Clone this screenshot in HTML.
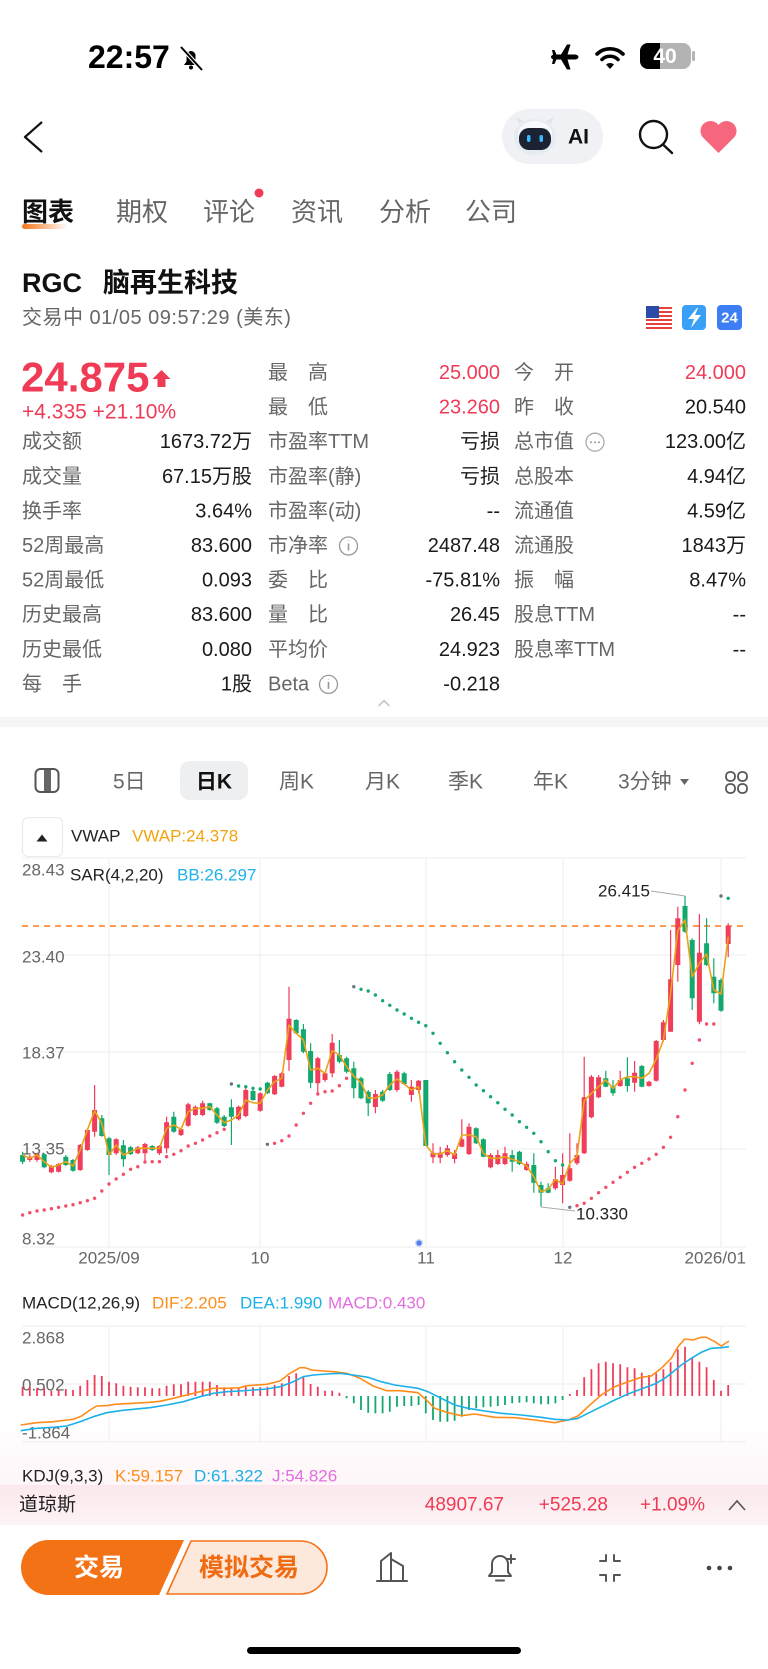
<!DOCTYPE html>
<html><head><meta charset="utf-8">
<style>
html,body{margin:0;padding:0;background:#fff;width:768px;height:1669px;overflow:hidden}
svg{display:block}
text{dominant-baseline:central;font-family:"Liberation Sans","Noto Sans CJK SC",sans-serif}
.lb{fill:#666;font-size:20px}
.vl{fill:#1a1a1a;font-size:20px;text-anchor:end}
.rd{fill:#ef3b55}
.tf{fill:#666;font-size:21px}
.ax{fill:#666;font-size:17px}
</style></head>
<body>
<svg width="768" height="1669" viewBox="0 0 768 1669" xmlns="http://www.w3.org/2000/svg">
<rect width="768" height="1669" fill="#fff"/>

<!-- status bar -->
<text x="88" y="57" style="font-size:32px;font-weight:bold" fill="#000">22:57</text>
<g>
<path d="M184 65h14l-2.5-3.5v-6a4.5 4.5 0 0 0-9 0v6z" fill="#000"/>
<circle cx="191" cy="67.5" r="2" fill="#000"/>
<line x1="181" y1="47" x2="202" y2="70" stroke="#fff" stroke-width="4"/>
<line x1="181" y1="47" x2="202" y2="70" stroke="#000" stroke-width="2"/>
</g>
<path d="M551 57c0-1.5 2-2.5 4-2.5h6l6-10h3.5l-3 10h7c2 0 4 1 4 2.5s-2 2.5-4 2.5h-7l3 10h-3.5l-6-10h-6c-2 0-4-1-4-2.5zM552 50h2.5l3 7-3 7H552l1.5-7z" fill="#000"/>
<path d="M597 54a19 19 0 0 1 26 0" stroke="#000" stroke-width="3.6" fill="none" stroke-linecap="round"/>
<path d="M602 59.5a11.5 11.5 0 0 1 16 0" stroke="#000" stroke-width="3.6" fill="none" stroke-linecap="round"/>
<path d="M606 64.5l4 4.5 4-4.5a6 6 0 0 0-8 0z" fill="#000"/>
<rect x="640" y="43" width="51" height="26" rx="8" fill="#b3b3b3"/>
<path d="M648 43h12v26h-12a8 8 0 0 1-8-8v-10a8 8 0 0 1 8-8z" fill="#000"/>
<rect x="692" y="51" width="3" height="10" rx="1.5" fill="#b3b3b3"/>
<text x="665" y="56.5" text-anchor="middle" style="font-size:21px;font-weight:bold" fill="#fff">40</text>

<!-- nav bar -->
<polyline points="42,122 25,137 42,152" fill="none" stroke="#111" stroke-width="2.2" stroke-linejoin="round"/>
<rect x="502" y="109" width="101" height="55" rx="27.5" fill="#eff1f4"/>
<path d="M519 124l-3-7 8 4zM551 124l3-7-8 4z" fill="#dfe5ee"/>
<ellipse cx="535" cy="137" rx="21" ry="18" fill="#e6ebf2"/>
<ellipse cx="535" cy="134" rx="17" ry="13" fill="#f7f9fc"/>
<rect x="519" y="128" width="32" height="22" rx="10" fill="#1b2232"/>
<rect x="527" y="135" width="3.5" height="7" rx="1.7" fill="#3ab8ff"/>
<rect x="539.5" y="135" width="3.5" height="7" rx="1.7" fill="#3ab8ff"/>
<text x="568" y="137" style="font-size:21px;font-weight:bold" fill="#111">AI</text>
<circle cx="653.5" cy="134.5" r="13.5" fill="none" stroke="#111" stroke-width="2.4"/>
<line x1="663" y1="144.5" x2="672" y2="153" stroke="#111" stroke-width="2.4" stroke-linecap="round"/>
<path d="M718.5 153l-16-16a10 10 0 0 1 16-12a10 10 0 0 1 16 12z" fill="#f6677e"/>

<!-- tabs -->
<text x="22" y="212" style="font-size:26px;font-weight:bold" fill="#111">图表</text>
<text x="116" y="212" style="font-size:26px" fill="#666">期权</text>
<text x="203" y="212" style="font-size:26px" fill="#666">评论</text>
<text x="291" y="212" style="font-size:26px" fill="#666">资讯</text>
<text x="379" y="212" style="font-size:26px" fill="#666">分析</text>
<text x="465" y="212" style="font-size:26px" fill="#666">公司</text>
<circle cx="259" cy="193" r="4.5" fill="#ef3b55"/>
<defs>
<linearGradient id="ul" x1="0" x2="1" y1="0" y2="0"><stop offset="0" stop-color="#f57416"/><stop offset="1" stop-color="#f57416" stop-opacity="0"/></linearGradient>
<linearGradient id="pk" x1="0" x2="0" y1="0" y2="1"><stop offset="0" stop-color="#fdeef1" stop-opacity="0"/><stop offset="1" stop-color="#fdeef1" stop-opacity="0.55"/></linearGradient>
<linearGradient id="pk2" x1="0" x2="0" y1="0" y2="1"><stop offset="0" stop-color="#fce8ec"/><stop offset="1" stop-color="#fdf3f5"/></linearGradient>
</defs>
<rect x="22" y="224" width="46" height="5" rx="2.5" fill="url(#ul)"/>

<!-- stock header -->
<text x="22" y="283" style="font-size:27px;font-weight:bold" fill="#111">RGC</text>
<text x="103" y="283" style="font-size:27px;font-weight:bold" fill="#111">脑再生科技</text>
<text x="22" y="318" style="font-size:20px;letter-spacing:0.5px" fill="#666">交易中 01/05 09:57:29 (美东)</text>
<g>
<rect x="646" y="306" width="26" height="24" rx="3" fill="#fff"/>
<path d="M646 307h26v2h-26zM646 311h26v2h-26zM646 315h26v2h-26zM646 319h26v2h-26zM646 323h26v2h-26zM646 327h26v2h-26z" fill="#e8403a"/>
<rect x="646" y="306" width="13" height="12" fill="#2c4aa8"/>
<rect x="682" y="305" width="24" height="25" rx="4" fill="#3aa0f7"/>
<path d="M697 308l-9 11h6l-3 9 10-13h-6l3-7z" fill="#fff"/>
<rect x="717" y="305" width="25" height="25" rx="4" fill="#3d7ef5"/>
<text x="729.5" y="318" text-anchor="middle" style="font-size:15px;font-weight:bold" fill="#fff">24</text>
</g>

<!-- price block -->
<text x="21" y="377" class="rd" style="font-size:42px;font-weight:bold">24.875</text>
<path d="M161.5 370L170.5 379H165.5V387H157.5V379H152.5Z" fill="#ef3b55"/>
<text x="22" y="412" class="rd" style="font-size:21px">+4.335 +21.10%</text>

<!-- table -->
<text x="268" y="373" class="lb">最　高</text><text x="500" y="373" class="vl rd">25.000</text>
<text x="514" y="373" class="lb">今　开</text><text x="746" y="373" class="vl rd">24.000</text>
<text x="268" y="407.6" class="lb">最　低</text><text x="500" y="407.6" class="vl rd">23.260</text>
<text x="514" y="407.6" class="lb">昨　收</text><text x="746" y="407.6" class="vl">20.540</text>

<text x="22" y="442.2" class="lb">成交额</text><text x="252" y="442.2" class="vl">1673.72万</text>
<text x="268" y="442.2" class="lb">市盈率TTM</text><text x="500" y="442.2" class="vl">亏损</text>
<text x="514" y="442.2" class="lb">总市值</text><text x="746" y="442.2" class="vl">123.00亿</text>
<circle cx="595" cy="442.2" r="9" fill="none" stroke="#aaa" stroke-width="1.3"/>
<path d="M591 442.2h0M595 442.2h0M599 442.2h0" stroke="#999" stroke-width="2" stroke-linecap="round"/>

<text x="22" y="476.8" class="lb">成交量</text><text x="252" y="476.8" class="vl">67.15万股</text>
<text x="268" y="476.8" class="lb">市盈率(静)</text><text x="500" y="476.8" class="vl">亏损</text>
<text x="514" y="476.8" class="lb">总股本</text><text x="746" y="476.8" class="vl">4.94亿</text>

<text x="22" y="511.4" class="lb">换手率</text><text x="252" y="511.4" class="vl">3.64%</text>
<text x="268" y="511.4" class="lb">市盈率(动)</text><text x="500" y="511.4" class="vl">--</text>
<text x="514" y="511.4" class="lb">流通值</text><text x="746" y="511.4" class="vl">4.59亿</text>

<text x="22" y="546" class="lb">52周最高</text><text x="252" y="546" class="vl">83.600</text>
<text x="268" y="546" class="lb">市净率</text><text x="500" y="546" class="vl">2487.48</text>
<circle cx="348.5" cy="546" r="9" fill="none" stroke="#999" stroke-width="1.3"/>
<path d="M348.5 543.5v7M348.5 540.5v0.5" stroke="#999" stroke-width="1.6"/>
<text x="514" y="546" class="lb">流通股</text><text x="746" y="546" class="vl">1843万</text>

<text x="22" y="580.6" class="lb">52周最低</text><text x="252" y="580.6" class="vl">0.093</text>
<text x="268" y="580.6" class="lb">委　比</text><text x="500" y="580.6" class="vl">-75.81%</text>
<text x="514" y="580.6" class="lb">振　幅</text><text x="746" y="580.6" class="vl">8.47%</text>

<text x="22" y="615.2" class="lb">历史最高</text><text x="252" y="615.2" class="vl">83.600</text>
<text x="268" y="615.2" class="lb">量　比</text><text x="500" y="615.2" class="vl">26.45</text>
<text x="514" y="615.2" class="lb">股息TTM</text><text x="746" y="615.2" class="vl">--</text>

<text x="22" y="649.8" class="lb">历史最低</text><text x="252" y="649.8" class="vl">0.080</text>
<text x="268" y="649.8" class="lb">平均价</text><text x="500" y="649.8" class="vl">24.923</text>
<text x="514" y="649.8" class="lb">股息率TTM</text><text x="746" y="649.8" class="vl">--</text>

<text x="22" y="684.4" class="lb">每　手</text><text x="252" y="684.4" class="vl">1股</text>
<text x="268" y="684.4" class="lb">Beta</text><text x="500" y="684.4" class="vl">-0.218</text>
<circle cx="328.5" cy="684.4" r="9" fill="none" stroke="#999" stroke-width="1.3"/>
<path d="M328.5 681.9v7M328.5 678.9v0.5" stroke="#999" stroke-width="1.6"/>

<path d="M378.5 706L384 700.5L389.5 706" fill="none" stroke="#bbb" stroke-width="1.3"/>
<rect x="0" y="717" width="768" height="10" fill="#f5f5f5"/>

<!-- timeframe row -->
<rect x="35.5" y="769" width="23" height="23" rx="5" fill="none" stroke="#555" stroke-width="2"/>
<rect x="44" y="770" width="7" height="21" fill="#666"/>
<text x="113" y="782" class="tf">5日</text>
<rect x="180" y="761" width="68" height="39" rx="10" fill="#eeeff1"/>
<text x="214" y="782" text-anchor="middle" style="font-size:21px;font-weight:bold" fill="#111">日K</text>
<text x="279" y="782" class="tf">周K</text>
<text x="365" y="782" class="tf">月K</text>
<text x="448" y="782" class="tf">季K</text>
<text x="533" y="782" class="tf">年K</text>
<text x="618" y="782" class="tf">3分钟</text>
<path d="M680 779h9l-4.5 6z" fill="#666"/>
<g fill="none" stroke="#555" stroke-width="1.8">
<rect x="726" y="772" width="9" height="9" rx="4"/><rect x="738" y="772" width="9" height="9" rx="4"/>
<rect x="726" y="784" width="9" height="9" rx="4"/><rect x="738" y="784" width="9" height="9" rx="4"/>
</g>

<!-- VWAP legend -->
<rect x="22.5" y="817.5" width="40" height="39" rx="6" fill="#fff" stroke="#e8e8e8"/>
<path d="M36.5 841.5h11l-5.5-7z" fill="#222"/>
<text x="71" y="836" style="font-size:17px" fill="#222">VWAP</text>
<text x="132" y="836" style="font-size:17px" fill="#f2a40f">VWAP:24.378</text>

<!-- main chart grid -->
<g stroke="#eeeeee" stroke-width="1">
<path d="M22 858H746M22 955H746M22 1052H746M22 1149H746M22 1247H746"/>
<path d="M109 858V1247M260 858V1247M426 858V1247M563 858V1247M721 858V1247"/>
</g>
<text x="22" y="870" class="ax">28.43</text>
<text x="22" y="957" class="ax">23.40</text>
<text x="22" y="1053" class="ax">18.37</text>
<text x="22" y="1149" class="ax">13.35</text>
<text x="22" y="1239" class="ax">8.32</text>
<text x="70" y="875" style="font-size:17px" fill="#222">SAR(4,2,20)</text>
<text x="177" y="875" style="font-size:17px" fill="#1fb1ea">BB:26.297</text>

<line x1="22" y1="926" x2="746" y2="926" stroke="#ff7a1a" stroke-width="1.5" stroke-dasharray="6 5"/>

<!-- candles -->
<path fill="none" stroke="#ef3d5a" stroke-width="1.2" d="M29.8 1155V1161.7M37 1152.7V1161.7M51.4 1165V1173.3M58.6 1163V1172.5M80.2 1144V1171M87.4 1128.3V1150.7M94.6 1085V1136.7M116.2 1138.3V1155M137.8 1146V1154M145 1142.7V1161.7M159.4 1145V1155M166.6 1116.7V1153.3M181 1128V1136M188.2 1102.7V1126.7M195.4 1105.5V1116M202.6 1100.7V1116M238.6 1105.5V1120.5M245.8 1088.3V1117.3M260.2 1092.3V1111.7M274.6 1075V1095M281.8 1071.7V1087.3M289 986.7V1070.7M317.8 1056.7V1093.3M325 1071.7V1081.7M332.2 1034V1077.3M375.4 1090V1113.3M397 1070V1091.7M411.4 1080V1101.7M418.6 1080V1093.3M433 1143.3V1163.3M440.2 1146.7V1163.3M447.4 1145V1156.7M454.6 1150V1163.3M461.8 1119.3V1147.3M469 1123.3V1155M490.6 1153.3V1168.3M497.8 1150V1165M505 1146.7V1165M526.6 1161.7V1170.7M555.4 1166.7V1190M562.6 1153.3V1203.3M569.8 1133.3V1181.7M577 1143.3V1165M584.2 1056.7V1154M591.4 1075V1118.3M598.6 1075V1098.3M620.2 1070.7V1086.7M634.6 1061V1091.7M649 1080.7V1086.7M656.2 1040V1081.7M663.4 1020V1041.7M670.6 930V1031.7M677.8 906.7V981.7M699.4 914V1024.3M728.2 923.3V957.3"/>
<path fill="#ef3d5a" d="M27.3 1156.7h5V1160h-5zM34.5 1154h5V1160h-5zM48.9 1166h5V1172.3h-5zM56.1 1164h5V1171.7h-5zM77.7 1145h5V1170h-5zM84.9 1130h5V1150h-5zM92.1 1110h5V1131.7h-5zM113.7 1139.3h5V1153.3h-5zM135.3 1147.3h5V1153.3h-5zM142.5 1144h5V1153.3h-5zM156.9 1146h5V1153.3h-5zM164.1 1122.3h5V1148.3h-5zM178.5 1129.3h5V1135h-5zM185.7 1104.3h5V1125.7h-5zM192.9 1106.7h5V1115h-5zM200.1 1103.3h5V1115h-5zM236.1 1106.7h5V1119.3h-5zM243.3 1090h5V1116h-5zM257.7 1093.3h5V1110.7h-5zM272.1 1076h5V1094.3h-5zM279.3 1073.3h5V1086.7h-5zM286.5 1018.7h5V1060h-5zM315.3 1058.3h5V1083.3h-5zM322.5 1073.3h5V1080h-5zM329.7 1042.7h5V1073.3h-5zM372.9 1094h5V1107h-5zM394.5 1071.7h5V1090h-5zM408.9 1086.7h5V1095h-5zM416.1 1080.7h5V1090h-5zM430.5 1152.7h5V1157.3h-5zM437.7 1152.7h5V1157.7h-5zM444.9 1148.3h5V1155h-5zM452.1 1153.3h5V1159h-5zM459.3 1139.3h5V1146.7h-5zM466.5 1126.7h5V1154h-5zM488.1 1155h5V1167.3h-5zM495.3 1155h5V1164h-5zM502.5 1153.3h5V1164h-5zM524.1 1164h5V1170h-5zM552.9 1179.3h5V1188.3h-5zM560.1 1175h5V1185h-5zM567.3 1168.3h5V1180.7h-5zM574.5 1155h5V1163.3h-5zM581.7 1097.3h5V1153.3h-5zM588.9 1076.7h5V1117.3h-5zM596.1 1077.3h5V1097.3h-5zM617.7 1080h5V1086h-5zM632.1 1072.7h5V1082.7h-5zM646.5 1081.7h5V1086h-5zM653.7 1041h5V1080.7h-5zM660.9 1022.3h5V1040h-5zM668.1 979.3h5V1031.7h-5zM675.3 918.3h5V965h-5zM696.9 952.7h5V1021.7h-5zM725.7 925.7h5V944h-5z"/>
<path fill="none" stroke="#13a86d" stroke-width="1.2" d="M22.6 1151.7V1164M44.2 1153.3V1168.3M65.8 1155V1166M73 1159V1171.7M101.8 1115V1136.7M109 1136.7V1175M123.4 1140V1166.7M130.6 1146V1155M152.2 1145V1151M173.8 1111.7V1132.7M209.8 1102.7V1110.7M217 1107V1124M224.2 1115V1127M231.4 1099.3V1145M253 1090V1100.7M267.4 1081.7V1094M296.2 1019.3V1034M303.4 1024V1053.3M310.6 1043.3V1088.3M339.4 1040V1063.3M346.6 1056.7V1073.3M353.8 1061.7V1098.3M361 1076.7V1099.3M368.2 1090V1116M382.6 1090V1102M389.8 1072V1091M404.2 1071.7V1085M425.8 1080V1146M476.2 1127.3V1144M483.4 1138.3V1157.3M512.2 1150V1171.7M519.4 1150.7V1165M533.8 1153.3V1192.7M541 1181.7V1206.7M548.2 1183.3V1193.3M605.8 1070.7V1087.3M613 1080V1095.7M627.4 1057.3V1091.7M641.8 1065V1087.3M685 896V932.7M692.2 938.3V1010M706.6 918.3V966M713.8 958.3V1003.3M721 978.3V1011.7"/>
<path fill="#13a86d" d="M20.1 1155h5V1161.7h-5zM41.7 1154.3h5V1167.3h-5zM63.3 1156.7h5V1165h-5zM70.5 1160h5V1170.7h-5zM99.3 1118.3h5V1136h-5zM106.5 1138.3h5V1155h-5zM120.9 1145.3h5V1159.3h-5zM128.1 1147.3h5V1154h-5zM149.7 1146h5V1150h-5zM171.3 1116.7h5V1131.7h-5zM207.3 1103.3h5V1110h-5zM214.5 1108.3h5V1122.7h-5zM221.7 1116.7h5V1126h-5zM228.9 1107.3h5V1116.7h-5zM250.5 1091h5V1100h-5zM264.9 1082.7h5V1093.3h-5zM293.7 1020h5V1033.3h-5zM300.9 1029.3h5V1051.7h-5zM308.1 1051h5V1082.7h-5zM336.9 1055h5V1061.7h-5zM344.1 1058.3h5V1071.7h-5zM351.3 1068.3h5V1088.3h-5zM358.5 1078.3h5V1098.3h-5zM365.7 1091.7h5V1103.3h-5zM380.1 1091.7h5V1100.7h-5zM387.3 1074h5V1090h-5zM401.7 1073.3h5V1084h-5zM423.3 1080h5V1146h-5zM473.7 1128.3h5V1143.3h-5zM480.9 1139.3h5V1156.7h-5zM509.7 1155h5V1161.7h-5zM516.9 1151.7h5V1164h-5zM531.3 1165h5V1182.7h-5zM538.5 1185h5V1192.7h-5zM545.7 1188.3h5V1192.7h-5zM603.3 1078.3h5V1086.7h-5zM610.5 1086.7h5V1093.3h-5zM624.9 1078.3h5V1086h-5zM639.3 1066h5V1086.7h-5zM682.5 906h5V931.7h-5zM689.7 940h5V998.3h-5zM704.1 943.3h5V965h-5zM711.3 976.7h5V993.3h-5zM718.5 980h5V1010.7h-5z"/>

<!-- VWAP line -->
<polyline fill="none" stroke="#eaa319" stroke-width="1.6" stroke-linejoin="round" points="22.6,1155 29.8,1158.3 37,1155 44.2,1161.7 51.4,1167.3 58.6,1165 65.8,1161.7 73,1166 80.2,1150 87.4,1130 94.6,1110.7 101.8,1123.3 109,1155 116.2,1145 123.4,1155 130.6,1151.7 137.8,1148.3 145,1148.3 152.2,1148.3 159.4,1148.3 166.6,1128.3 173.8,1125 181,1129.3 188.2,1111.7 195.4,1108.3 202.6,1108.3 209.8,1106.7 217,1115 224.2,1122.7 231.4,1120 238.6,1115 245.8,1100 253,1102.7 260.2,1103.3 267.4,1090 274.6,1081.7 281.8,1078.3 289,1025 296.2,1033.3 303.4,1040 310.6,1070 317.8,1068.3 325,1073.3 332.2,1050.7 339.4,1055 346.6,1066.7 353.8,1076 361,1082.7 368.2,1098 375.4,1098 382.6,1095 389.8,1085 397,1079 404.2,1084 411.4,1090 418.6,1086.7 425.8,1145 433,1154 440.2,1154 447.4,1150.7 454.6,1155 461.8,1135 469,1135 476.2,1136.7 483.4,1153.3 490.6,1158.3 497.8,1158.3 505,1156.7 512.2,1159.3 519.4,1161.7 526.6,1166 533.8,1176.7 541,1191.7 548.2,1189.3 555.4,1179.3 562.6,1184 569.8,1163.3 577,1156 584.2,1100.7 591.4,1093.3 598.6,1086.7 605.8,1080 613,1088.3 620.2,1080 627.4,1076.7 634.6,1076.7 641.8,1078.3 649,1073.3 656.2,1059.3 663.4,1040 670.6,993.3 677.8,930.7 685,920 692.2,976.7 699.4,963.3 706.6,954 713.8,990 721,994 728.2,936.7"/>

<!-- SAR dots -->
<path fill="none" stroke="#f2506a" stroke-width="3.4" stroke-linecap="round" d="M22.6 1215h0M29.8 1212.7h0M37 1211h0M44.2 1210h0M51.4 1208.7h0M58.6 1207.3h0M65.8 1206h0M73 1204.7h0M80.2 1202.7h0M87.4 1200.7h0M94.6 1198.3h0M101.8 1191h0M109 1184h0M116.2 1179h0M123.4 1174.3h0M130.6 1169.3h0M137.8 1166.7h0M145 1162h0M152.2 1161.7h0M159.4 1161.7h0M166.6 1156.7h0M173.8 1154.3h0M181 1150.7h0M188.2 1146h0M195.4 1143.3h0M202.6 1140h0M209.8 1136h0M217 1132.7h0M224.2 1129.3h0M274.6 1143.3h0M281.8 1140.7h0M289 1136h0M296.2 1125h0M303.4 1113.3h0M310.6 1103.3h0M317.8 1094h0M325 1091.7h0M332.2 1091h0M339.4 1085.7h0M346.6 1078.3h0M577 1205.7h0M584.2 1203.3h0M591.4 1198.3h0M598.6 1192.7h0M605.8 1187.3h0M613 1182.3h0M620.2 1177.3h0M627.4 1172.3h0M634.6 1167.3h0M641.8 1163.3h0M649 1159h0M656.2 1154.3h0M663.4 1147.3h0M670.6 1137.3h0M677.8 1116.7h0M685 1090h0M692.2 1063.3h0M699.4 1040h0M706.6 1024h0M713.8 1024h0"/>
<path fill="none" stroke="#16a870" stroke-width="3.4" stroke-linecap="round" d="M238.6 1086h0M245.8 1086.7h0M253 1088.3h0M260.2 1089h0M361 989.3h0M368.2 991h0M375.4 995h0M382.6 1000.7h0M389.8 1005.3h0M397 1010h0M404.2 1014h0M411.4 1018.3h0M418.6 1022.3h0M425.8 1025.7h0M433 1033.3h0M440.2 1043.3h0M447.4 1052.7h0M454.6 1061.7h0M461.8 1070h0M469 1077.3h0M476.2 1085h0M483.4 1090.7h0M490.6 1096.7h0M497.8 1102.7h0M505 1109.3h0M512.2 1115h0M519.4 1121.7h0M526.6 1127.3h0M533.8 1133.3h0M541 1141.7h0M548.2 1151.7h0M555.4 1160.7h0M562.6 1165h0M728.2 898.3h0"/>
<path fill="none" stroke="#6b7285" stroke-width="3.4" stroke-linecap="round" d="M231.4 1084h0M267.4 1144.3h0M353.8 986.7h0M569.8 1207.3h0M721 896h0"/>

<!-- annotations -->
<line x1="651" y1="891" x2="685" y2="896" stroke="#aaa" stroke-width="1"/>
<text x="598" y="891" style="font-size:17px" fill="#222">26.415</text>
<line x1="541" y1="1207" x2="575" y2="1211" stroke="#aaa" stroke-width="1"/>
<text x="576" y="1214" style="font-size:17px" fill="#222">10.330</text>
<circle cx="419" cy="1243" r="4" fill="#c9d8fb"/>
<circle cx="419" cy="1243" r="2.6" fill="#4f7fea"/>

<!-- dates -->
<text x="109" y="1258" text-anchor="middle" class="ax">2025/09</text>
<text x="260" y="1258" text-anchor="middle" class="ax">10</text>
<text x="426" y="1258" text-anchor="middle" class="ax">11</text>
<text x="563" y="1258" text-anchor="middle" class="ax">12</text>
<text x="746" y="1258" text-anchor="end" class="ax">2026/01</text>

<!-- MACD -->
<text x="22" y="1303" style="font-size:17px" fill="#222">MACD(12,26,9)</text>
<text x="152" y="1303" style="font-size:17px" fill="#ff8c1a">DIF:2.205</text>
<text x="240" y="1303" style="font-size:17px" fill="#1ab0e8">DEA:1.990</text>
<text x="328" y="1303" style="font-size:17px" fill="#e26de0">MACD:0.430</text>

<rect x="0" y="1420" width="768" height="65" fill="url(#pk)"/>

<g stroke="#eeeeee" stroke-width="1">
<path d="M22 1326H746M22 1384H746M22 1442H746"/>
<path d="M109 1326V1442M260 1326V1442M426 1326V1442M563 1326V1442M721 1326V1442"/>
</g>
<text x="22" y="1338" class="ax">2.868</text>
<text x="22" y="1385" class="ax">0.502</text>
<text x="22" y="1433" class="ax">-1.864</text>

<path fill="none" stroke="#ef3d5a" stroke-width="1.8" d="M22.6 1396V1386.7M29.8 1396V1386.7M37 1396V1388.3M44.2 1396V1388.3M51.4 1396V1390.7M58.6 1396V1390M65.8 1396V1389M73 1396V1390M80.2 1396V1385.7M87.4 1396V1380M94.6 1396V1375M101.8 1396V1376M109 1396V1381.7M116.2 1396V1383.3M123.4 1396V1385.7M130.6 1396V1386.7M137.8 1396V1387.3M145 1396V1387.3M152.2 1396V1388.3M159.4 1396V1388.3M166.6 1396V1385.7M173.8 1396V1384.3M181 1396V1384.3M188.2 1396V1381.7M195.4 1396V1381.7M202.6 1396V1381.7M209.8 1396V1381.7M217 1396V1385M224.2 1396V1387.3M231.4 1396V1388.3M238.6 1396V1388.3M245.8 1396V1386.7M253 1396V1387.3M260.2 1396V1387.3M267.4 1396V1386.7M274.6 1396V1385M281.8 1396V1383.3M289 1396V1376M296.2 1396V1373.3M303.4 1396V1377.3M310.6 1396V1384M317.8 1396V1386.7M325 1396V1390.7M332.2 1396V1390.7M339.4 1396V1392.7M569.8 1396V1394M577 1396V1390M584.2 1396V1377.3M591.4 1396V1369.3M598.6 1396V1363.3M605.8 1396V1361.7M613 1396V1363.3M620.2 1396V1364.3M627.4 1396V1367.3M634.6 1396V1368.3M641.8 1396V1372.7M649 1396V1375M656.2 1396V1373.3M663.4 1396V1369.3M670.6 1396V1362.3M677.8 1396V1349.3M685 1396V1346.7M692.2 1396V1358.3M699.4 1396V1361.7M706.6 1396V1367.3M713.8 1396V1380M721 1396V1390.7M728.2 1396V1385"/>
<path fill="none" stroke="#13a86d" stroke-width="1.8" d="M346.6 1396V1398.3M353.8 1396V1403.3M361 1396V1410M368.2 1396V1412.7M375.4 1396V1413.3M382.6 1396V1413.3M389.8 1396V1411.7M397 1396V1406.7M404.2 1396V1406M411.4 1396V1406M418.6 1396V1405M425.8 1396V1413.3M433 1396V1420M440.2 1396V1421.7M447.4 1396V1421.7M454.6 1396V1420.7M461.8 1396V1416.7M469 1396V1410M476.2 1396V1408.3M483.4 1396V1407.3M490.6 1396V1406.7M497.8 1396V1406M505 1396V1405M512.2 1396V1403.3M519.4 1396V1402.7M526.6 1396V1402.3M533.8 1396V1403.3M541 1396V1404.3M548.2 1396V1404.3M555.4 1396V1403.3M562.6 1396V1400"/>
<polyline fill="none" stroke="#ff8c1a" stroke-width="1.6" stroke-linejoin="round" points="20.7,1425 36.7,1422.7 53.3,1421.7 66.7,1420 73.3,1419.3 81.7,1416 90,1410 96.7,1406 106.7,1405.7 115,1404.3 133.3,1403.3 150,1402.3 160,1401.3 173.3,1398.3 186.7,1395 200,1391.7 213.3,1388.3 226.7,1388.3 240,1387.7 246.7,1385.7 266.7,1384.3 280,1381 290,1373.3 300,1367.7 305,1367.7 311.7,1370 323.3,1371 333.3,1371.7 346.7,1373.3 360,1378.3 373.3,1386 386.7,1390.7 400,1390.7 418,1392.7 426.3,1400 434.7,1408.3 448,1412.7 461.3,1415.7 474.7,1414 494.7,1417.3 514.7,1417.7 534.7,1420 554.7,1422.7 568,1420 578,1416 588,1406.7 601.3,1395 614.7,1386.7 628,1381.7 641.3,1377.3 651.3,1376 661.3,1368.3 671.3,1358.3 678,1346.7 684.7,1339 693,1340 701.3,1337.3 706.3,1337.3 714.7,1341.7 721.3,1346 729,1341"/>
<polyline fill="none" stroke="#1ab0e8" stroke-width="1.6" stroke-linejoin="round" points="20.7,1430.7 36.7,1428.3 53.3,1427.3 66.7,1426 80,1421.7 93.3,1416.7 106.7,1412.7 120,1410.7 133.3,1409.3 150,1407.7 166.7,1405 183.3,1401.7 200,1396.7 213.3,1393.3 226.7,1391.7 240,1391 253.3,1390 266.7,1389 280,1386.7 293.3,1381.7 303.3,1376.7 313.3,1375 326.7,1374 340,1373.3 353.3,1375 368,1377.3 381.3,1381.7 394.7,1385 418,1388.3 428,1391.7 441.3,1398.3 454.7,1405 468,1408.3 484.7,1411 501.3,1413.3 521.3,1415 541.3,1417.3 554.7,1419.3 568,1420 578,1418.3 588,1413.3 601.3,1406.7 614.7,1400 628,1394 641.3,1389 654.7,1384 664.7,1378.3 671.3,1373.3 681.3,1365 691.3,1358.3 701.3,1352.3 711.3,1348.3 721.3,1347.7 729,1346.7"/>

<!-- KDJ -->
<text x="22" y="1476" style="font-size:17px" fill="#222">KDJ(9,3,3)</text>
<text x="115" y="1476" style="font-size:17px" fill="#ff8c1a">K:59.157</text>
<text x="194" y="1476" style="font-size:17px" fill="#1ab0e8">D:61.322</text>
<text x="272" y="1476" style="font-size:17px" fill="#e26de0">J:54.826</text>

<!-- index bar -->
<rect x="0" y="1485" width="768" height="40" fill="url(#pk2)"/>
<text x="19" y="1505" style="font-size:19px" fill="#222">道琼斯</text>
<text x="504" y="1505" text-anchor="end" class="rd" style="font-size:19px">48907.67</text>
<text x="608" y="1505" text-anchor="end" class="rd" style="font-size:19px">+525.28</text>
<text x="705" y="1505" text-anchor="end" class="rd" style="font-size:19px">+1.09%</text>
<path d="M729 1510L737 1501L745 1510" fill="none" stroke="#555" stroke-width="1.6"/>
<rect x="0" y="1525" width="768" height="144" fill="#fff"/>

<!-- bottom actions -->
<path d="M48.5 1540H184L159 1595H48.5a27.5 27.5 0 0 1 0-55z" fill="#f37216"/>
<path d="M191 1541H300.5a26.5 26.5 0 0 1 0 53H167z" fill="#fde8dc" stroke="#f37216" stroke-width="1.6"/>
<text x="99" y="1568" text-anchor="middle" style="font-size:25px;font-weight:bold" fill="#fff">交易</text>
<text x="249" y="1568" text-anchor="middle" style="font-size:25px;font-weight:bold" fill="#f06c12">模拟交易</text>

<g fill="none" stroke="#555" stroke-width="2" stroke-linejoin="round" stroke-linecap="round">
<path d="M377 1581H407M381 1581V1561L391 1553V1581M391 1559L403 1566V1581"/>
<path d="M489 1576H511L508 1572V1564A8 8 0 0 0 492 1564V1572Z"/>
<path d="M496 1580.5H504"/>
<path d="M511 1555V1563M507 1559H515"/>
<path d="M600 1561H606V1555M614 1555V1561H620M600 1575H606V1581M614 1581V1575H620"/>
</g>
<g fill="#444"><circle cx="709" cy="1568" r="2.3"/><circle cx="719.5" cy="1568" r="2.3"/><circle cx="730" cy="1568" r="2.3"/></g>

<rect x="247" y="1647" width="274" height="7" rx="3.5" fill="#000"/>
</svg>
</body></html>
